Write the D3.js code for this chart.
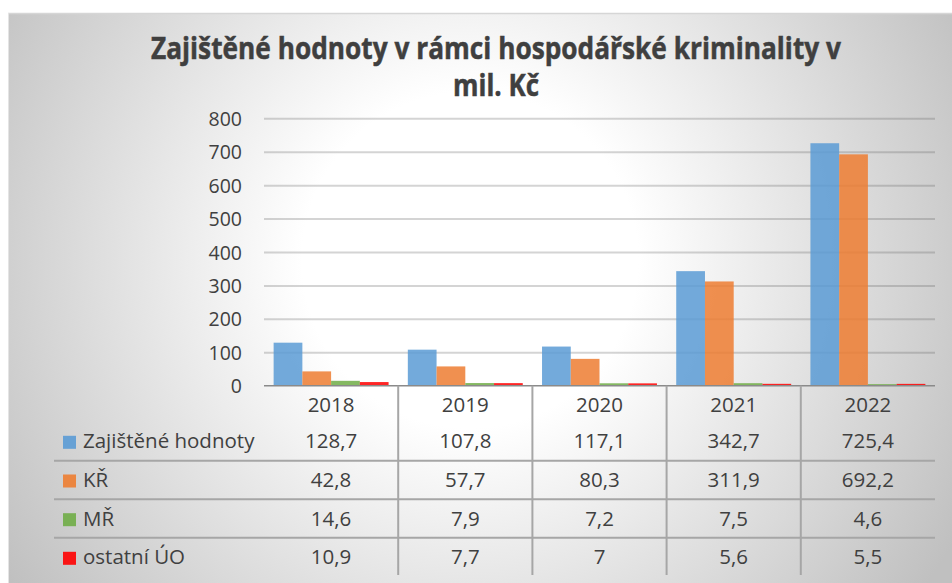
<!DOCTYPE html>
<html>
<head>
<meta charset="utf-8">
<script src="https://cdn.jsdelivr.net/npm/d3@7/dist/d3.min.js"></script>
<style>
  html, body { margin: 0; padding: 0; background: #fff; }
  svg { display: block; }
  text { font-family: "Open Sans", Lato, sans-serif; }
</style>
</head>
<body>
<svg id="chart" width="952" height="583"></svg>
<script>
const years = ["2018", "2019", "2020", "2021", "2022"];
const seriesNames = ["Zajištěné hodnoty", "KŘ", "MŘ", "ostatní ÚO"];
const zajistene = [128.7, 107.8, 117.1, 342.7, 725.4];
const kr = [42.8, 57.7, 80.3, 311.9, 692.2];
const mr = [14.6, 7.9, 7.2, 7.5, 4.6];
const ostatni = [10.9, 7.7, 7, 5.6, 5.5];
const yTicks = [0, 100, 200, 300, 400, 500, 600, 700, 800];
const titleLines = ["Zajištěné hodnoty v rámci hospodářské kriminality v", "mil. Kč"];

const seriesValues = [zajistene, kr, mr, ostatni];
const colors = ["#5B9BD5", "#ED7D31", "#70AD47", "#FF0000"];

const svg = d3.select("#chart");
const W = 952, H = 583;

const defs = svg.append("defs");
const grad = defs.append("radialGradient")
  .attr("id", "bg").attr("gradientUnits", "userSpaceOnUse")
  .attr("cx", 470).attr("cy", 260).attr("r", 560);
grad.append("stop").attr("offset", 0).attr("stop-color", "#ffffff");
grad.append("stop").attr("offset", 0.3).attr("stop-color", "#ffffff");
grad.append("stop").attr("offset", 1).attr("stop-color", "#c0c0c0");

svg.append("rect").attr("x", 8).attr("y", 13).attr("width", W).attr("height", H)
  .attr("fill", "url(#bg)");
svg.append("line").attr("x1", 8).attr("x2", W).attr("y1", 13.5).attr("y2", 13.5)
  .attr("stroke", "#d6d6d6").attr("stroke-width", 1.5);
svg.append("line").attr("x1", 8.5).attr("x2", 8.5).attr("y1", 13).attr("y2", H)
  .attr("stroke", "#e4e4e4").attr("stroke-width", 1);

// title
const title = svg.append("g");
titleLines.forEach((t, i) => {
  const el = title.append("text")
    .attr("x", 496).attr("y", i === 0 ? 59 : 96)
    .attr("text-anchor", "middle")
    .attr("font-family", "Lato, sans-serif")
    .attr("font-size", 30).attr("font-weight", 700)
    .attr("fill", "#3f3f3f")
    .attr("stroke", "#3f3f3f").attr("stroke-width", 0.5)
    .text(t);
  const target = i === 0 ? 690 : 86;
  const w = el.node().getComputedTextLength();
  if (w > target) el.attr("textLength", target).attr("lengthAdjust", "spacingAndGlyphs");
});

// plot
const x0 = 264, x1 = 935, yTop = 118.3, yBot = 385.7;
const x = d3.scaleBand().domain(years).range([x0, x1]).paddingInner(0).paddingOuter(0);
const y = d3.scaleLinear().domain([0, 800]).range([yBot, yTop]);
const xs = d3.scaleBand().domain(d3.range(seriesNames.length))
  .range([0, x.bandwidth()]).paddingOuter(0.335).paddingInner(0);

const yAxis = d3.axisLeft(y).tickValues(yTicks).tickSize(-(x1 - x0)).tickPadding(22).tickFormat(d3.format("d"));
const ga = svg.append("g").attr("transform", `translate(${x0},0)`).call(yAxis);
ga.select(".domain").remove();
ga.selectAll(".tick line").attr("stroke", "rgba(90,90,90,0.26)").attr("stroke-width", 2)
  .filter(d => d === 0).remove();
ga.selectAll(".tick text").attr("font-size", 19.5).attr("fill", "#404040")
  .attr("font-family", "'Open Sans', sans-serif").attr("dy", "0.36em");

// bars
const groups = svg.append("g").selectAll("g").data(years).join("g")
  .attr("transform", d => `translate(${x(d)},0)`);
groups.selectAll("rect").data((d, i) => seriesValues.map((s, k) => ({ k, v: s[i] })))
  .join("rect")
  .attr("x", d => xs(d.k))
  .attr("width", xs.bandwidth())
  .attr("y", d => y(d.v))
  .attr("height", d => y(0) - y(d.v))
  .attr("fill", d => colors[d.k])
  .attr("fill-opacity", 0.85);

svg.append("line").attr("x1", x0).attr("x2", x1).attr("y1", yBot).attr("y2", yBot)
  .attr("stroke", "#8a8a8a").attr("stroke-width", 1.5);

// data table
const rowLines = [460.7, 499.3, 537.7];
rowLines.forEach(ry => {
  svg.append("line").attr("x1", 54).attr("x2", x1).attr("y1", ry).attr("y2", ry)
    .attr("stroke", "#a6a6a6").attr("stroke-width", 2);
});
years.slice(1).forEach(yr => {
  svg.append("line").attr("x1", x(yr)).attr("x2", x(yr)).attr("y1", yBot).attr("y2", 575)
    .attr("stroke", "#a6a6a6").attr("stroke-width", 2);
});

const tableFont = 20.5;
svg.append("g").selectAll("text").data(years).join("text")
  .attr("x", d => x(d) + x.bandwidth() / 2).attr("y", 411.7)
  .attr("text-anchor", "middle").attr("font-size", tableFont).attr("fill", "#404040")
  .text(d => d);

const rowBase = [448.3, 487.0, 525.7, 564.3];
seriesNames.forEach((name, k) => {
  const by = rowBase[k];
  svg.append("rect").attr("x", 63).attr("y", by - 12.5).attr("width", 13).attr("height", 13)
    .attr("fill", colors[k]).attr("fill-opacity", 0.9);
  svg.append("text").attr("x", 83).attr("y", by).attr("font-size", tableFont).attr("fill", "#404040")
    .text(name);
  svg.append("g").selectAll("text").data(seriesValues[k]).join("text")
    .attr("x", (d, i) => x(years[i]) + x.bandwidth() / 2).attr("y", by)
    .attr("text-anchor", "middle").attr("font-size", tableFont).attr("fill", "#404040")
    .text(d => String(d).replace(".", ","));
});
</script>
</body>
</html>
